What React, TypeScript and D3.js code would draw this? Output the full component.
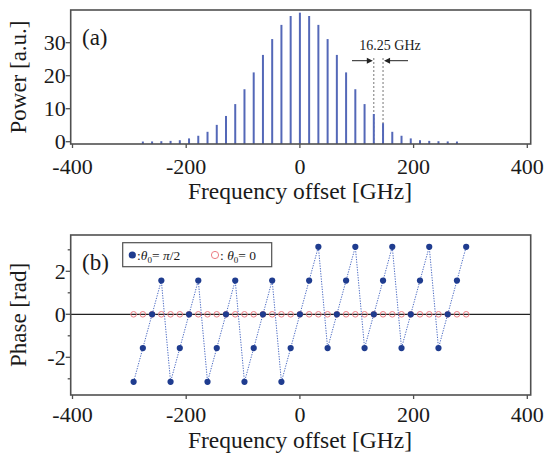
import React from 'react'
import * as d3 from 'd3'

// spectrum lines, 16.25 GHz spacing
const barFreqs = [
  -276.25, -260, -243.75, -227.5, -211.25, -195, -178.75, -162.5, -146.25, -130, -113.75, -97.5,
  -81.25, -65, -48.75, -32.5, -16.25, 0, 16.25, 32.5, 48.75, 65, 81.25, 97.5, 113.75, 130,
  146.25, 162.5, 178.75, 195, 211.25, 227.5, 243.75, 260, 276.25,
]
const barPower = [
  0.05, 0.08, 0.15, 0.25, 0.45, 1.0, 1.8, 3.0, 5.1, 7.8, 11.4, 15.9,
  21.0, 26.3, 31.1, 35.4, 38.1, 39.1, 38.1, 35.4, 31.1, 26.3, 21.0, 15.9, 11.4, 8.4,
  5.6, 3.0, 1.8, 1.0, 0.45, 0.25, 0.15, 0.08, 0.05,
]

const phaseFreqs = [
  -292.5, -276.25, -260, -243.75, -227.5, -211.25, -195, -178.75, -162.5, -146.25, -130, -113.75,
  -97.5, -81.25, -65, -48.75, -32.5, -16.25, 0, 16.25, 32.5, 48.75, 65, 81.25, 97.5, 113.75,
  130, 146.25, 162.5, 178.75, 195, 211.25, 227.5, 243.75, 260, 276.25, 292.5,
]
const phaseHalfPi = [
  -3.14, -1.57, 0, 1.57, -3.14, -1.57, 0, 1.57, -3.14, -1.57, 0, 1.57,
  -3.14, -1.57, 0, 1.57, -3.14, -1.57, 0, 1.57, 3.14, -1.57, 0, 1.57, 3.14, -1.57,
  0, 1.57, 3.14, -1.57, 0, 1.57, 3.14, -1.57, 0, 1.57, 3.14,
]
const phaseZero = [
  0, 0, 0, 0, 0, 0, 0, 0, 0, 0, 0, 0, 0, 0, 0, 0, 0, 0, 0,
  0, 0, 0, 0, 0, 0, 0, 0, 0, 0, 0, 0, 0, 0, 0, 0, 0, 0,
]

const xTicks = [-400, -200, 0, 200, 400]
const powerTicks = [0, 10, 20, 30]
const phaseTicks = [-2, 0, 2]
const phaseMinor = [-3, -1, 1, 3]

const FONT = '"Liberation Serif", "Times New Roman", serif'
const FRAME = '#505050'
const TXT = '#1a1a1a'
const BAR = '#5468b8'
const BLUE = '#1f3c8f'
const RED = '#ec7d84'

export default function App() {
  const L = 70.7, R = 530.7
  const x = d3.scaleLinear().domain([-400, 400]).range([72.5, 527.3])

  // panel (a)
  const aTop = 10, aBot = 144
  const yA = d3.scaleLinear().domain([0, 30]).range([141.7, 42.7])

  // panel (b)
  const bTop = 235, bBot = 395
  const yB = d3.scaleLinear().domain([0, 2]).range([314.3, 271.3])

  const phaseLine = d3.line<number>()
    .x((_, i) => x(phaseFreqs[i]))
    .y(d => yB(d))

  const dashL = x(130), dashR = x(146.25)
  const arrowY = 60.7

  return (
    <svg width={549} height={455} style={{ position: 'fixed', left: 0, top: 0, background: '#fff' }}
      fontFamily={FONT}>
      {/* ---------- (a) ---------- */}
      <line x1={dashL} x2={dashL} y1={58} y2={aBot} stroke="#777" strokeWidth={1} strokeDasharray="2,2" />
      <line x1={dashR} x2={dashR} y1={58} y2={aBot} stroke="#777" strokeWidth={1} strokeDasharray="2,2" />
      {barPower.map((p, i) => (
        <line key={i} x1={x(barFreqs[i])} x2={x(barFreqs[i])} y1={aBot} y2={yA(p)}
          stroke={BAR} strokeWidth={2} />
      ))}
      <rect x={L} y={aTop} width={R - L} height={aBot - aTop} fill="none" stroke={FRAME} strokeWidth={1.6} />
      {powerTicks.map(t => (
        <g key={t}>
          <line x1={L - 5} x2={L} y1={yA(t)} y2={yA(t)} stroke={FRAME} strokeWidth={1.3} />
          <text x={L - 5} y={yA(t) + 7.5} textAnchor="end" fontSize={22} fill={TXT}>{t}</text>
        </g>
      ))}
      {xTicks.map(t => (
        <g key={t}>
          <line x1={x(t)} x2={x(t)} y1={aBot} y2={aBot + 4} stroke={FRAME} strokeWidth={1.3} />
          <text x={x(t)} y={aBot + 30} textAnchor="middle" fontSize={22} fill={TXT}>{t}</text>
        </g>
      ))}
      <text x={300} y={199} textAnchor="middle" fontSize={23.5} fill={TXT}>Frequency offset [GHz]</text>
      <text transform={`translate(26,${(aTop + aBot) / 2}) rotate(-90)`} textAnchor="middle" fontSize={23} fill={TXT}>Power [a.u.]</text>
      <text x={82} y={45} fontSize={23} fill={TXT}>(a)</text>
      <text x={390} y={50} textAnchor="middle" fontSize={14} fill={TXT}>16.25 GHz</text>
      <line x1={352} x2={368} y1={arrowY} y2={arrowY} stroke="#222" strokeWidth={1} />
      <path d={`M${dashL - 1},${arrowY} l-6,-3 l0,6 z`} fill="#222" />
      <line x1={dashR + 6} x2={408} y1={arrowY} y2={arrowY} stroke="#222" strokeWidth={1} />
      <path d={`M${dashR + 1},${arrowY} l6,-3 l0,6 z`} fill="#222" />

      {/* ---------- (b) ---------- */}
      <line x1={L} x2={R} y1={yB(0)} y2={yB(0)} stroke="#222" strokeWidth={1.2} />
      {phaseZero.map((p, i) => (
        <circle key={'r' + i} cx={x(phaseFreqs[i])} cy={yB(p)} r={2.8} fill="none" stroke={RED} strokeWidth={1} />
      ))}
      <path d={phaseLine(phaseHalfPi) || ''} fill="none" stroke="#4d6cc4" strokeWidth={1} strokeDasharray="1.3,1.3" />
      {phaseHalfPi.map((p, i) => (
        <circle key={'b' + i} cx={x(phaseFreqs[i])} cy={yB(p)} r={3.1} fill={BLUE} />
      ))}
      <rect x={L} y={bTop} width={R - L} height={bBot - bTop} fill="none" stroke={FRAME} strokeWidth={1.6} />
      {phaseTicks.map(t => (
        <g key={t}>
          <line x1={L - 5} x2={L} y1={yB(t)} y2={yB(t)} stroke={FRAME} strokeWidth={1.3} />
          <text x={L - 5} y={yB(t) + 7.5} textAnchor="end" fontSize={22} fill={TXT}>{t}</text>
        </g>
      ))}
      {phaseMinor.map(t => (
        <line key={t} x1={L - 3} x2={L} y1={yB(t)} y2={yB(t)} stroke={FRAME} strokeWidth={1.3} />
      ))}
      {xTicks.map(t => (
        <g key={t}>
          <line x1={x(t)} x2={x(t)} y1={bBot} y2={bBot + 4} stroke={FRAME} strokeWidth={1.3} />
          <text x={x(t)} y={bBot + 27} textAnchor="middle" fontSize={22} fill={TXT}>{t}</text>
        </g>
      ))}
      <text x={300} y={448} textAnchor="middle" fontSize={23.5} fill={TXT}>Frequency offset [GHz]</text>
      <text transform={`translate(26,${(bTop + bBot) / 2}) rotate(-90)`} textAnchor="middle" fontSize={23} fill={TXT}>Phase [rad]</text>
      <text x={82} y={270} fontSize={23} fill={TXT}>(b)</text>

      {/* legend */}
      <rect x={122.7} y={242.7} width={149} height={24} fill="#fff" stroke={FRAME} strokeWidth={1.2} />
      <circle cx={132.3} cy={255} r={3.6} fill={BLUE} />
      <text x={137} y={260} fontSize={13.5} fill={TXT}>
        :<tspan fontStyle="italic">θ</tspan><tspan fontSize={9} dy={3}>0</tspan><tspan dy={-3}>= </tspan><tspan fontStyle="italic">π</tspan>/2
      </text>
      <circle cx={215} cy={255} r={3.6} fill="none" stroke={RED} strokeWidth={1} />
      <text x={220} y={260} fontSize={13.5} fill={TXT}>
        : <tspan fontStyle="italic">θ</tspan><tspan fontSize={9} dy={3}>0</tspan><tspan dy={-3}>= 0</tspan>
      </text>
    </svg>
  )
}
